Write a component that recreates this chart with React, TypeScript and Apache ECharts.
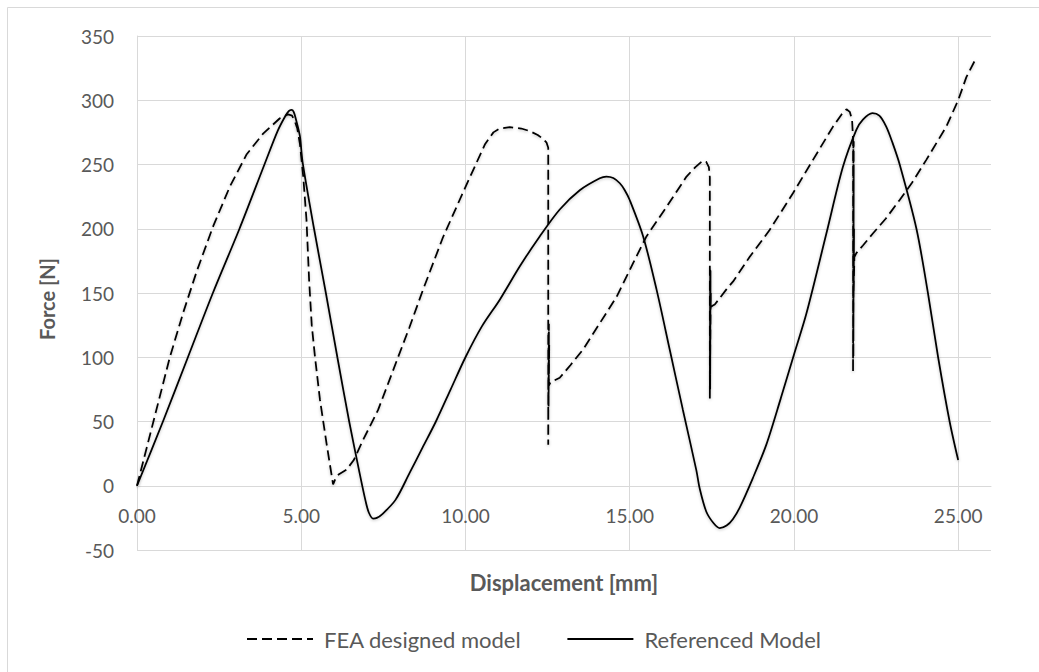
import React, { useEffect, useRef } from "react";
import * as echarts from "echarts";

const feaX = [0, 0.5, 1.0, 1.41, 1.82, 2.32, 2.83, 3.34, 3.84, 4.35, 4.6, 4.72, 4.8, 4.88, 4.96, 5.06, 5.16, 5.24, 5.32, 5.42, 5.57, 5.77, 5.97, 6.05, 6.15, 6.38, 6.6, 6.89, 7.34, 7.8, 8.29, 8.7, 9.31, 9.92, 10.33, 10.6, 10.85, 11.04, 11.35, 11.7, 11.96, 12.2, 12.36, 12.47, 12.52, 12.52, 12.53, 12.52, 12.54, 12.53, 12.54, 12.53, 12.55, 12.54, 12.58, 12.62, 12.87, 13.2, 13.58, 14.09, 14.6, 15.1, 15.51, 16.12, 16.73, 17.0, 17.23, 17.33, 17.41, 17.44, 17.44, 17.45, 17.44, 17.46, 17.45, 17.46, 17.45, 17.47, 17.47, 17.52, 17.59, 17.74, 17.95, 18.15, 18.65, 19.26, 19.97, 20.58, 21.19, 21.45, 21.6, 21.7, 21.77, 21.8, 21.8, 21.81, 21.8, 21.82, 21.81, 21.82, 21.81, 21.83, 21.82, 21.84, 21.9, 22.1, 22.41, 22.8, 23.22, 23.6, 24.03, 24.64, 25.0, 25.25, 25.55];
const feaY = [0, 50, 100, 135, 167, 202, 233, 258, 274, 286, 289, 288, 284, 278, 266, 241, 207, 160, 125, 100, 67, 33, 1, 6, 9, 12.5, 20, 36, 59, 90, 123, 152, 193, 228, 251, 266, 275, 278, 279, 278, 276, 273, 270, 267, 263, 32, 126, 57, 126, 60, 120, 70, 110, 78, 80, 81, 84, 94, 106, 126.5, 147, 173, 194, 217, 240.6, 248, 253, 252, 248, 240, 67, 168, 68, 168, 75, 160, 90, 150, 139, 140, 141, 146, 153, 159, 178, 199, 227.6, 253.6, 279.5, 289, 293, 291, 285, 270, 88, 268, 92, 268, 100, 250, 120, 200, 150, 178, 181, 187, 196.5, 208, 222.4, 236, 253.6, 279.5, 300, 318, 333];

const refX = [0, 0.79, 1.55, 2.31, 3.12, 3.88, 4.28, 4.5, 4.62, 4.7, 4.77, 4.84, 4.96, 5.04, 5.39, 5.75, 6.1, 6.46, 6.76, 6.96, 7.06, 7.19, 7.3, 7.47, 7.87, 8.3, 8.7, 9.1, 9.55, 10.0, 10.5, 11.05, 11.66, 12.26, 12.87, 13.48, 14.09, 14.29, 14.5, 14.7, 14.85, 15.0, 15.41, 15.82, 16.22, 16.62, 17.03, 17.13, 17.33, 17.55, 17.74, 17.95, 18.14, 18.35, 18.75, 19.16, 19.6, 20.0, 20.38, 20.99, 21.49, 21.9, 22.1, 22.39, 22.6, 22.81, 23.0, 23.22, 23.73, 24.08, 24.39, 24.74, 25.0];
const refY = [0, 50, 100, 150, 200, 250, 276, 287, 291.5, 292.5, 291, 285, 272, 252, 200, 150, 100, 50, 12, -12, -21, -25.5, -25, -22, -11, 10, 30, 50, 75, 100, 124, 145, 171, 194, 215, 230, 239.3, 240.6, 239.5, 235.4, 230, 222.4, 194, 152.4, 105.8, 59, 12, -2, -20, -29, -33, -31, -26, -17, 6, 32, 68, 102, 134, 196.5, 248, 277, 285, 290, 288, 279.5, 267, 250, 200, 150, 100, 50, 20];

const seriesNames = ["FEA designed model", "Referenced Model"];
const xTitle = "Displacement [mm]";
const yTitle = "Force [N]";

const zip = (xs: number[], ys: number[]) => xs.map((x, i) => [x, ys[i]]);

export default function App() {
  const ref = useRef<HTMLDivElement>(null);
  useEffect(() => {
    if (!ref.current) return;
    const chart = echarts.init(ref.current, null, { renderer: "svg" });
    const font = "Lato, 'Open Sans', sans-serif";
    const grey = "#595959";
    const gridC = "#d9d9d9";
    chart.setOption({
      animation: false,
      backgroundColor: "#ffffff",
      grid: { left: 137, right: 48, top: 36, bottom: 122, containLabel: false },
      xAxis: {
        type: "value",
        min: 0,
        max: 26,
        interval: 5,
        offset: -64,
        axisLine: { show: true, onZero: false, lineStyle: { color: gridC, width: 1 } },
        axisTick: { show: false },
        axisLabel: {
          margin: 20,
          color: grey,
          fontFamily: font,
          fontSize: 19,
          showMaxLabel: false,
          formatter: (v: number) => (v % 5 === 0 ? v.toFixed(2) : ""),
        },
        splitLine: { show: true, showMaxLine: false, lineStyle: { color: gridC, width: 1 } },
      },
      yAxis: {
        type: "value",
        min: -50,
        max: 350,
        interval: 50,
        axisLine: { show: true, onZero: false, lineStyle: { color: gridC, width: 1 } },
        axisTick: { show: false },
        axisLabel: { margin: 23, color: grey, fontFamily: font, fontSize: 19 },
        splitLine: { show: true, lineStyle: { color: gridC, width: 1 } },
      },
      legend: {
        left: 246,
        top: 628,
        padding: 0,
        itemWidth: 66,
        itemHeight: 14,
        itemGap: 45,
        itemStyle: { opacity: 0, color: "rgba(0,0,0,0)", borderWidth: 0 },
        textStyle: { color: grey, fontFamily: font, fontSize: 22, padding: [0, 0, 0, 6] },
        data: seriesNames,
      },
      graphic: [
        {
          type: "rect",
          shape: { x: 7.5, y: 7.5, width: 1100, height: 700 },
          style: { fill: "none", stroke: gridC, lineWidth: 1 },
          silent: true,
        },
        {
          type: "text",
          x: 564,
          y: 582,
          style: {
            text: xTitle,
            fill: grey,
            font: `bold 22px ${font}`,
            textAlign: "center",
            textVerticalAlign: "middle",
          },
        },
        {
          type: "text",
          x: 47,
          y: 299,
          rotation: Math.PI / 2,
          style: {
            text: yTitle,
            fill: grey,
            font: `bold 20px ${font}`,
            textAlign: "center",
            textVerticalAlign: "middle",
          },
        },
      ],
      series: [
        {
          name: seriesNames[0],
          type: "line",
          data: zip(feaX, feaY),
          showSymbol: false,
          symbol: "none",
          smooth: false,
          lineStyle: {
            color: "#000000",
            width: 1.75,
            type: [10, 5],
            shadowColor: "rgba(0,0,0,0.25)",
            shadowBlur: 3,
            shadowOffsetY: 1,
          },
          itemStyle: { color: "#000000" },
        },
        {
          name: seriesNames[1],
          type: "line",
          data: zip(refX, refY),
          showSymbol: false,
          symbol: "none",
          smooth: 0.3,
          lineStyle: {
            color: "#000000",
            width: 1.75,
            type: "solid",
            shadowColor: "rgba(0,0,0,0.25)",
            shadowBlur: 3,
            shadowOffsetY: 1,
          },
          itemStyle: { color: "#000000" },
        },
      ],
    });
    return () => chart.dispose();
  }, []);
  return (
    <div
      ref={ref}
      style={{ position: "absolute", left: 0, top: 0, width: 1039, height: 672 }}
    />
  );
}
